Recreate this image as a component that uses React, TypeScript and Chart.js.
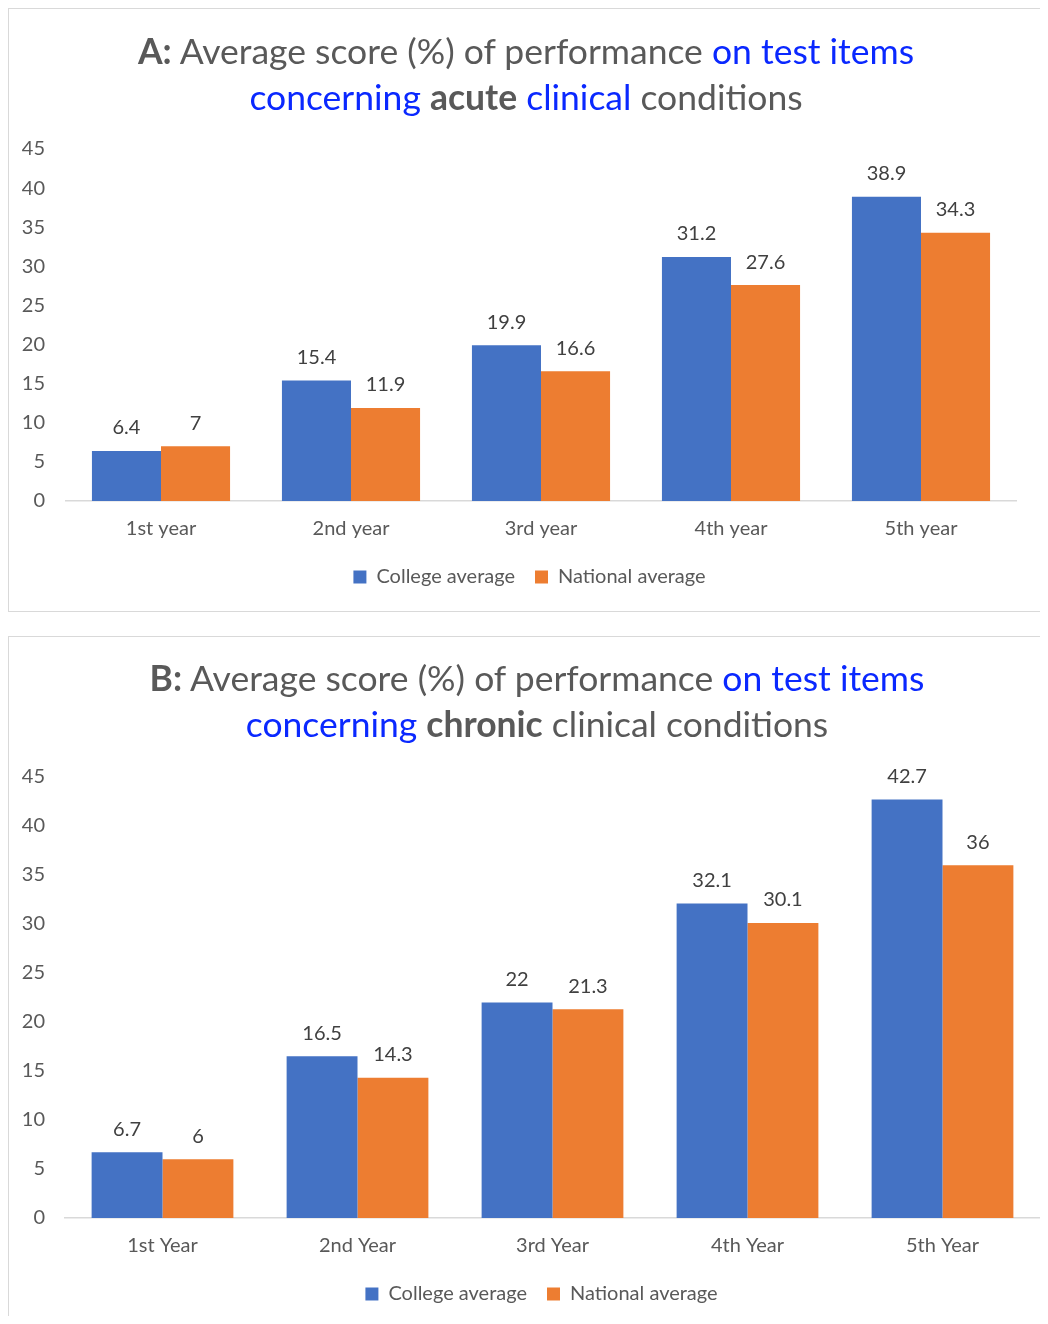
import React, { useEffect, useRef } from "react";
import { Chart, registerables } from "chart.js";

Chart.register(...registerables);

const seriesNames = ["College average", "National average"];
const seriesColors = ["#4472C4", "#ED7D31"];

const categoriesA = ["1st year", "2nd year", "3rd year", "4th year", "5th year"];
const collegeA = [6.4, 15.4, 19.9, 31.2, 38.9];
const nationalA = [7, 11.9, 16.6, 27.6, 34.3];

const categoriesB = ["1st Year", "2nd Year", "3rd Year", "4th Year", "5th Year"];
const collegeB = [6.7, 16.5, 22, 32.1, 42.7];
const nationalB = [6, 14.3, 21.3, 30.1, 36];

const yMin = 0;
const yMax = 45;
const yStep = 5;

const FONT = "Lato, 'Open Sans', sans-serif";
const GRAY = "#595959";
const BLUE = "#0a28ff";
const FS = 20;

type Seg = { t: string; blue?: boolean; bold?: boolean };

const titleA: Seg[][] = [
  [
    { t: "A:", bold: true },
    { t: " Average score (%) of performance " },
    { t: "on test items", blue: true },
  ],
  [
    { t: "concerning ", blue: true },
    { t: "acute", bold: true },
    { t: " " },
    { t: "clinical", blue: true },
    { t: " conditions" },
  ],
];

const titleB: Seg[][] = [
  [
    { t: "B:", bold: true },
    { t: " Average score (%) of performance " },
    { t: "on test items", blue: true },
  ],
  [
    { t: "concerning ", blue: true },
    { t: "chronic", bold: true },
    { t: " clinical conditions" },
  ],
];

const valueLabels = {
  id: "valueLabels",
  afterDatasetsDraw(chart: any) {
    const ctx = chart.ctx;
    ctx.save();
    ctx.font = `${FS}px ${FONT}`;
    ctx.fillStyle = "#404040";
    ctx.textAlign = "center";
    ctx.textBaseline = "middle";
    chart.data.datasets.forEach((ds: any, i: number) => {
      const meta = chart.getDatasetMeta(i);
      meta.data.forEach((el: any, j: number) => {
        ctx.fillText(String(ds.data[j]), el.x, el.y - 23);
      });
    });
    ctx.restore();
  },
};

const legendShift = {
  id: "legendShift",
  afterLayout(chart: any) {
    const lg = chart.legend;
    if (lg) {
      lg.left += 17;
      lg.right += 17;
    }
  },
};

type PanelProps = {
  labels: string[];
  college: number[];
  national: number[];
  width: number;
  height: number;
  area: { left: number; right: number; top: number; bottom: number };
  tickPad: number;
  padBottom: number;
};

function BarPanel(p: PanelProps) {
  const ref = useRef<HTMLCanvasElement | null>(null);
  useEffect(() => {
    if (!ref.current) return;
    const chart = new Chart(ref.current, {
      type: "bar",
      data: {
        labels: p.labels,
        datasets: [
          {
            label: seriesNames[0],
            data: p.college,
            backgroundColor: seriesColors[0],
            barPercentage: 1,
            categoryPercentage: 0.727,
          },
          {
            label: seriesNames[1],
            data: p.national,
            backgroundColor: seriesColors[1],
            barPercentage: 1,
            categoryPercentage: 0.727,
          },
        ],
      },
      options: {
        responsive: false,
        animation: false,
        layout: {
          padding: {
            left: 0,
            top: p.area.top,
            right: p.width - p.area.right,
            bottom: p.padBottom,
          },
        },
        plugins: {
          title: { display: false },
          tooltip: { enabled: false },
          legend: {
            display: true,
            position: "bottom",
            maxHeight: 40,
            labels: {
              boxWidth: 13,
              boxHeight: 13,
              padding: 20,
              color: GRAY,
              font: { family: FONT, size: FS },
            },
          },
        },
        scales: {
          x: {
            grid: { display: false, drawTicks: false },
            border: { display: true, color: "#d9d9d9", width: 1.5 },
            ticks: { color: GRAY, font: { family: FONT, size: FS }, padding: 16 },
            afterFit: (s: any) => {
              s.height = 46;
            },
          },
          y: {
            min: yMin,
            max: yMax,
            grid: { display: false, drawTicks: false },
            border: { display: false },
            ticks: {
              stepSize: yStep,
              color: GRAY,
              font: { family: FONT, size: FS },
              padding: p.tickPad,
            },
            afterFit: (s: any) => {
              s.width = p.area.left;
            },
          },
        },
      },
      plugins: [valueLabels, legendShift],
    });
    return () => chart.destroy();
  }, []);
  return <canvas ref={ref} width={p.width} height={p.height} style={{ display: "block", width: p.width, height: p.height }} />;
}

function Title({ lines, top, width }: { lines: Seg[][]; top: number; width: number }) {
  return (
    <div
      style={{
        position: "absolute",
        left: 0,
        top,
        width,
        textAlign: "center",
        fontFamily: FONT,
        fontSize: 35.5,
        lineHeight: "46px",
        color: GRAY,
        whiteSpace: "nowrap",
      }}
    >
      {lines.map((line, i) => (
        <div key={i}>
          {line.map((s, k) => (
            <span key={k} style={{ color: s.blue ? BLUE : GRAY, fontWeight: s.bold ? 700 : 400 }}>
              {s.t}
            </span>
          ))}
        </div>
      ))}
    </div>
  );
}

export default function App() {
  return (
    <div style={{ position: "relative", width: 1040, height: 1308, overflow: "hidden" }}>
      <div
        style={{
          position: "absolute",
          left: 0,
          top: 0,
          width: 1036,
          height: 604,
          boxSizing: "border-box",
          border: "1.5px solid #d9d9d9",
        }}
      />
      <div style={{ position: "absolute", left: 1, top: 1 }}>
        <BarPanel
          labels={categoriesA}
          college={collegeA}
          national={nationalA}
          width={1034}
          height={602}
          area={{ left: 57, right: 1007, top: 140, bottom: 492 }}
          tickPad={21}
          padBottom={24}
        />
      </div>
      <Title lines={titleA} top={20} width={1036} />

      <div
        style={{
          position: "absolute",
          left: 0,
          top: 628,
          width: 1060,
          height: 720,
          boxSizing: "border-box",
          borderLeft: "1.5px solid #d9d9d9",
          borderTop: "1.5px solid #d9d9d9",
        }}
      />
      <div style={{ position: "absolute", left: 1, top: 629 }}>
        <BarPanel
          labels={categoriesB}
          college={collegeB}
          national={nationalB}
          width={1039}
          height={679}
          area={{ left: 56, right: 1031, top: 140, bottom: 581 }}
          tickPad={20}
          padBottom={12}
        />
      </div>
      <Title lines={titleB} top={647} width={1058} />
    </div>
  );
}
